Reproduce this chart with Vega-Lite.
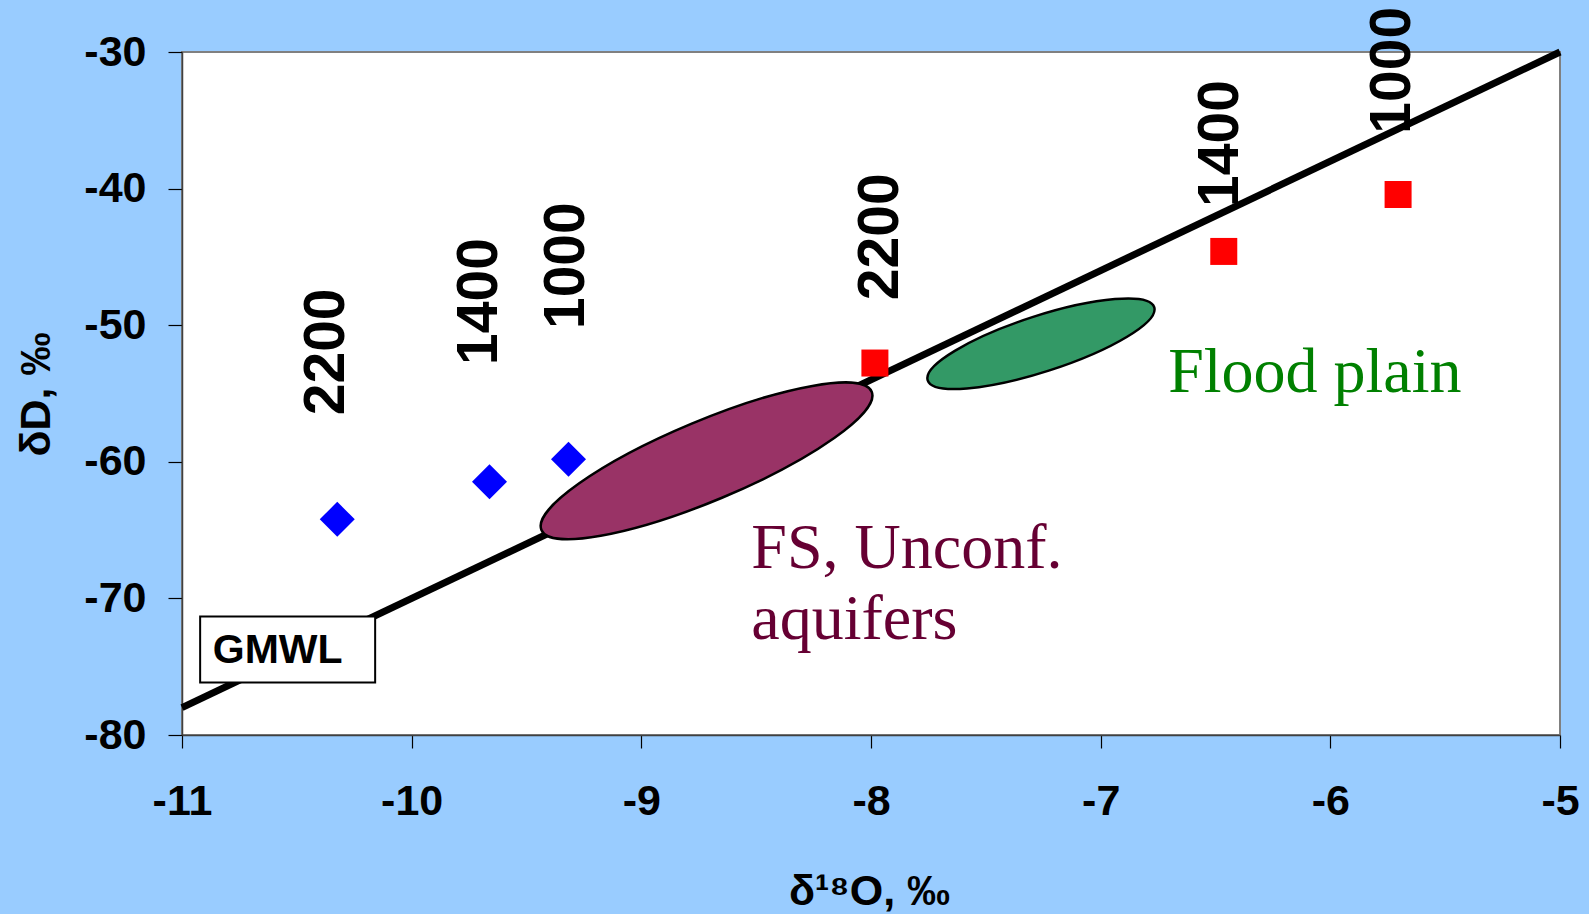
{
  "$schema": "https://vega.github.io/schema/vega-lite/v6.json",
  "width": 1378,
  "height": 683,
  "autosize": {"type": "none"},
  "padding": {"left": 182, "top": 52, "right": 29, "bottom": 179},
  "background": "#99CCFF",
  "config": {
    "view": {"fill": "#FFFFFF", "stroke": "#808080", "strokeWidth": 2},
    "axis": {
      "grid": false,
      "labelFont": "Liberation Sans",
      "labelFontWeight": "bold",
      "labelFontSize": 43,
      "labelColor": "#000000",
      "titleFont": "Liberation Sans",
      "titleFontWeight": "bold",
      "titleFontSize": 43,
      "titleColor": "#000000",
      "domainColor": "#404040",
      "domainWidth": 1.5,
      "tickColor": "#000000",
      "tickWidth": 1.2,
      "labelFlush": false,
      "labelOverlap": false,
      "labelExpr": "replace(datum.label, '\u2212', '-')"
    }
  },
  "datasets": {
    "pts": [
      {"x": -10.324, "y": -64.21, "s": "a", "elev": 2200},
      {"x": -9.661, "y": -61.46, "s": "a", "elev": 1400},
      {"x": -9.317, "y": -59.82, "s": "a", "elev": 1000},
      {"x": -7.983, "y": -52.77, "s": "b", "elev": 2200},
      {"x": -6.464, "y": -44.60, "s": "b", "elev": 1400},
      {"x": -5.705, "y": -40.43, "s": "b", "elev": 1000}
    ],
    "labels": [
      {"x": -10.367, "y": -51.95, "label": "2200"},
      {"x": -9.703, "y": -48.27, "label": "1400"},
      {"x": -9.324, "y": -45.64, "label": "1000"},
      {"x": -7.957, "y": -43.53, "label": "2200"},
      {"x": -6.478, "y": -36.70, "label": "1400"},
      {"x": -5.727, "y": -31.34, "label": "1000"}
    ],
    "gmwl": [
      {"x": -11, "y": -78},
      {"x": -5, "y": -30}
    ],
    "zones": [
      {"x": -8.716, "y": -59.93, "zone": "fs"},
      {"x": -7.260, "y": -51.36, "zone": "fp"}
    ],
    "box": [
      {"x": -10.921, "x2": -10.159, "y": -71.33, "y2": -76.16}
    ],
    "boxtext": [
      {"x": -10.866, "y": -74.70, "label": "GMWL"}
    ],
    "notes": [
      {"x": -8.521, "y": -67.79, "label": "FS, Unconf.", "kind": "fs"},
      {"x": -8.521, "y": -72.98, "label": "aquifers", "kind": "fs"},
      {"x": -6.706, "y": -54.92, "label": "Flood plain", "kind": "fp"}
    ]
  },
  "encoding": {
    "x": {
      "field": "x",
      "type": "quantitative",
      "scale": {"domain": [-11, -5], "nice": false, "zero": false},
      "axis": {
        "values": [-11, -10, -9, -8, -7, -6, -5],
        "tickSize": 13,
        "labelPadding": 32,
        "title": "δ¹⁸O, ‰",
        "titleX": 687,
        "titleY": 156,
        "titleBaseline": "middle",
        "titleAlign": "center"
      }
    },
    "y": {
      "field": "y",
      "type": "quantitative",
      "scale": {"domain": [-80, -30], "nice": false, "zero": false},
      "axis": {
        "values": [-80, -70, -60, -50, -40, -30],
        "tickSize": 14,
        "labelPadding": 22,
        "title": "δD, ‰",
        "titleX": -146,
        "titleY": 342,
        "titleAngle": 270,
        "titleBaseline": "middle",
        "titleAlign": "center"
      }
    }
  },
  "layer": [
    {
      "data": {"name": "labels"},
      "mark": {"type": "text", "angle": 270, "align": "center", "baseline": "middle", "font": "Liberation Sans", "fontWeight": "bold", "fontSize": 57, "color": "#000000"},
      "encoding": {"text": {"field": "label", "type": "nominal"}}
    },
    {
      "data": {"name": "gmwl"},
      "mark": {"type": "line", "color": "#000000", "strokeWidth": 7, "strokeCap": "butt"},
      "encoding": {}
    },
    {
      "data": {"name": "zones"},
      "transform": [{"filter": "datum.zone === 'fs'"}],
      "mark": {
        "type": "point",
        "shape": "M -1 0 C -1 -0.1234 -0.5523 -0.2235 0 -0.2235 C 0.5523 -0.2235 1 -0.1234 1 0 C 1 0.1234 0.5523 0.2235 0 0.2235 C -0.5523 0.2235 -1 0.1234 -1 0 Z",
        "filled": true,
        "fill": "#993366",
        "stroke": "#000000",
        "strokeWidth": 2.5,
        "opacity": 1,
        "fillOpacity": 1,
        "size": 128164,
        "angle": 337.3
      }
    },
    {
      "data": {"name": "zones"},
      "transform": [{"filter": "datum.zone === 'fp'"}],
      "mark": {
        "type": "point",
        "shape": "M -1 0 C -1 -0.1298 -0.5523 -0.235 0 -0.235 C 0.5523 -0.235 1 -0.1298 1 0 C 1 0.1298 0.5523 0.235 0 0.235 C -0.5523 0.235 -1 0.1298 -1 0 Z",
        "filled": true,
        "fill": "#339966",
        "stroke": "#000000",
        "strokeWidth": 2.5,
        "opacity": 1,
        "fillOpacity": 1,
        "size": 56644,
        "angle": 342.1
      }
    },
    {
      "data": {"name": "pts"},
      "transform": [{"filter": "datum.s === 'a'"}],
      "mark": {"type": "point", "shape": "diamond", "filled": true, "color": "#0000FF", "opacity": 1, "size": 1225, "strokeWidth": 0}
    },
    {
      "data": {"name": "pts"},
      "transform": [{"filter": "datum.s === 'b'"}],
      "mark": {"type": "point", "shape": "square", "filled": true, "color": "#FF0000", "opacity": 1, "size": 729, "strokeWidth": 0}
    },
    {
      "data": {"name": "box"},
      "mark": {"type": "rect", "fill": "#FFFFFF", "stroke": "#000000", "strokeWidth": 2},
      "encoding": {"x2": {"field": "x2"}, "y2": {"field": "y2"}}
    },
    {
      "data": {"name": "boxtext"},
      "mark": {"type": "text", "align": "left", "baseline": "alphabetic", "font": "Liberation Sans", "fontWeight": "bold", "fontSize": 41, "color": "#000000"},
      "encoding": {"text": {"field": "label", "type": "nominal"}}
    },
    {
      "data": {"name": "notes"},
      "mark": {"type": "text", "align": "left", "baseline": "alphabetic", "font": "Liberation Serif", "fontSize": 64},
      "encoding": {
        "text": {"field": "label", "type": "nominal"},
        "color": {"field": "kind", "type": "nominal", "scale": {"domain": ["fs", "fp"], "range": ["#660033", "#008000"]}, "legend": null}
      }
    }
  ]
}
